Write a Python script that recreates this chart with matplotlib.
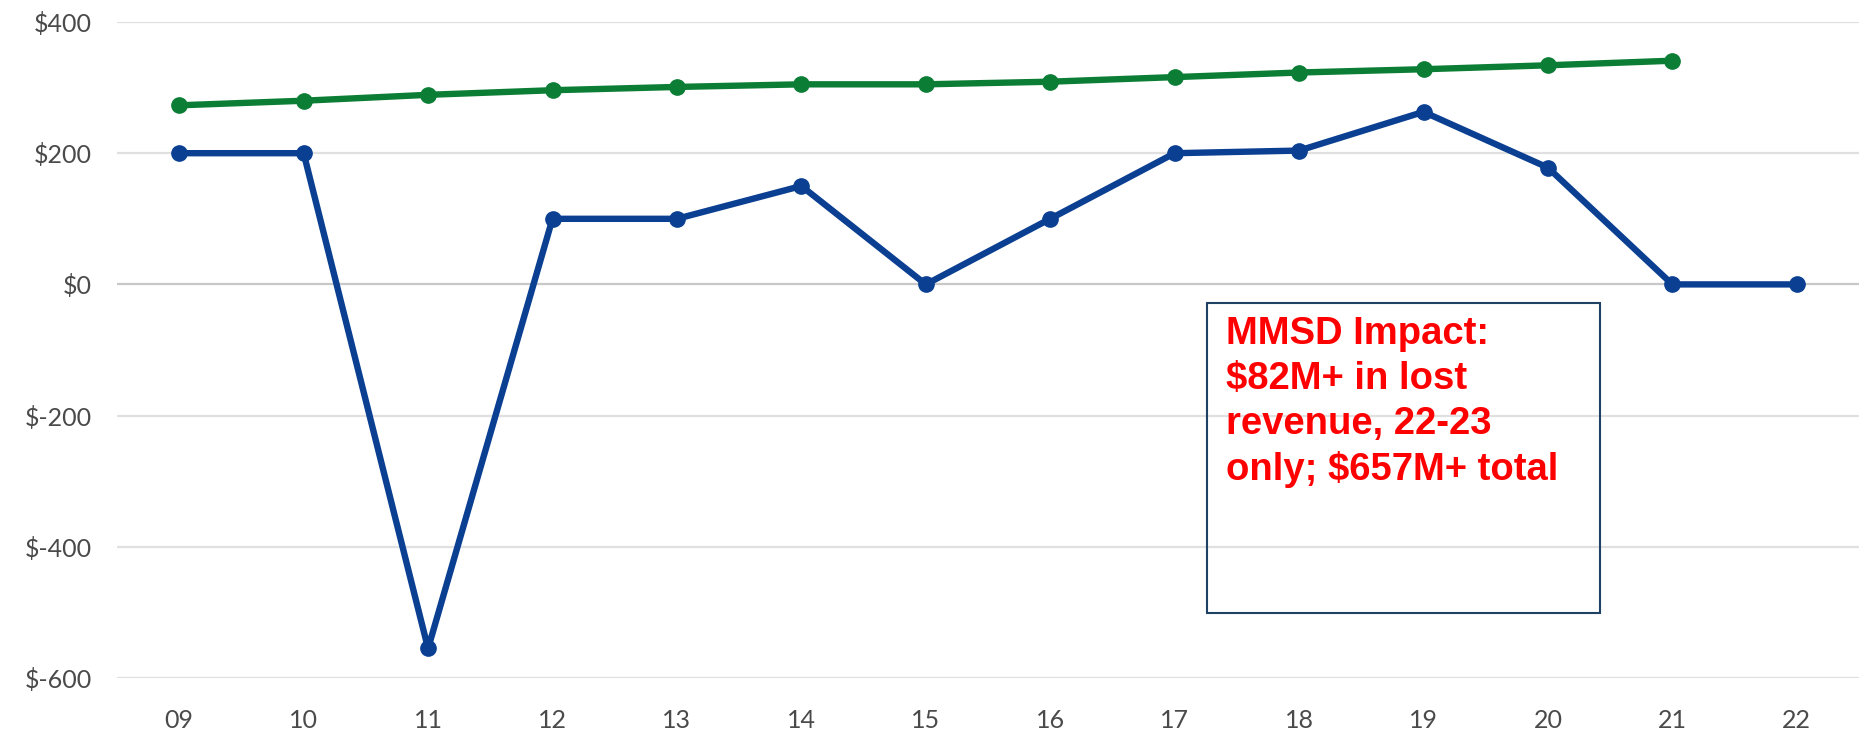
import matplotlib
matplotlib.use("Agg")
import matplotlib.pyplot as plt
from matplotlib.patches import Rectangle

years = ["09", "10", "11", "12", "13", "14", "15", "16", "17", "18", "19", "20", "21", "22"]
green_values = [273, 280, 289, 296, 301, 305, 305, 309, 316, 323, 328, 334, 341]
blue_values = [200, 200, -555, 100, 100, 150, 0, 100, 200, 204, 263, 178, 0, 0]
y_ticks = [-600, -400, -200, 0, 200, 400]
y_tick_labels = ["$-600", "$-400", "$-200", "$0", "$200", "$400"]
annotation = "MMSD Impact:\n$82M+ in lost\nrevenue, 22-23\nonly; $657M+ total"

W, H = 1859, 731
fig = plt.figure(figsize=(W / 100, H / 100), dpi=100)
ax = fig.add_axes([117 / W, (H - 678) / H, 1742 / W, 656 / H])

for t in y_ticks:
    ax.axhline(t, color="#c8c8c8" if t == 0 else "#e0e0e0", lw=1.6, zorder=0)

x = list(range(len(years)))
ax.plot(x[:len(green_values)], green_values, color="#0b7d35", lw=4.6,
        marker="o", ms=11, zorder=3, solid_capstyle="round")
ax.plot(x, blue_values, color="#0a3f92", lw=4.6,
        marker="o", ms=11, zorder=3, solid_capstyle="round")

ax.set_xlim(-0.5, len(years) - 0.5)
ax.set_ylim(-600, 400)
ax.set_xticks(x)
ax.set_xticklabels(years)
ax.set_yticks(y_ticks)
ax.set_yticklabels(y_tick_labels)
for s in ax.spines.values():
    s.set_visible(False)
ax.tick_params(axis="both", length=0, labelsize=18, labelcolor="#4a4a4a")
ax.tick_params(axis="y", pad=18)
ax.tick_params(axis="x", pad=22)
for lab in ax.get_xticklabels() + ax.get_yticklabels():
    lab.set_fontfamily("Lato")

# annotation box (figure pixel coordinates)
rect = Rectangle((1207 / W, 1 - 613 / H), (1600 - 1207) / W, (613 - 303) / H,
                 transform=fig.transFigure, fill=False, edgecolor="#1f4163", lw=1.5)
fig.patches.append(rect)
fig.text(1226 / W, 1 - 316 / H, annotation, color="#ff0000", fontsize=27.5,
         fontweight="bold", family="Liberation Sans", va="top", ha="left",
         linespacing=1.32)

fig.savefig("out.png", dpi=100)
